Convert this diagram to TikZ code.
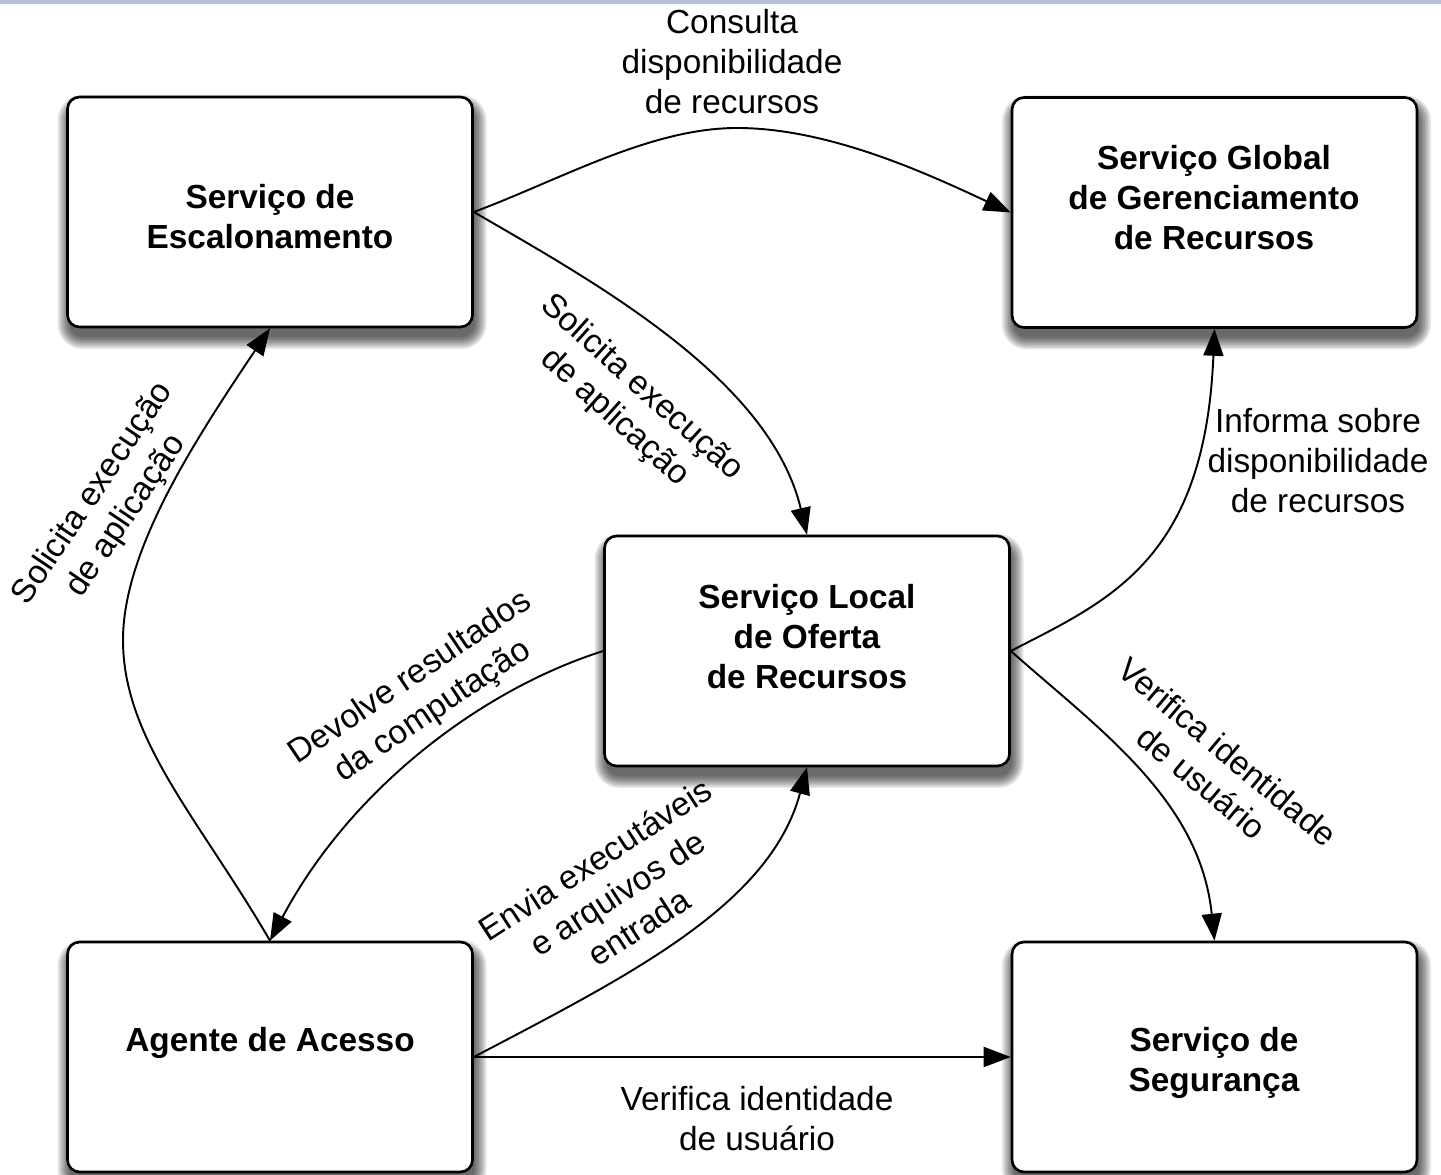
\documentclass[tikz,border=0pt]{standalone}
\usepackage{fontspec}
\setmainfont{Liberation Sans}
\usetikzlibrary{arrows.meta}
\definecolor{bandblue}{HTML}{B8BDDA}
\begin{document}
\begin{tikzpicture}[x=0.02cm,y=-0.02cm,
  service/.style={draw=black, line width=1.5pt, fill=white,
    rounded corners=0.24cm, minimum width=8.1cm, minimum height=4.6cm,
    inner sep=0pt},
  shadowlayer/.style={fill=black, opacity=0.09},
  title/.style={font=\fontsize{19}{22.8}\selectfont\bfseries, align=center, inner sep=0pt},
  msg/.style={font=\fontsize{19}{22.8}\selectfont, align=center, inner sep=0pt},
  flow/.style={line width=1.1pt, -{Triangle[length=0.54cm,width=0.4cm]}},
]
\useasboundingbox (0,0) rectangle (1441,1175);
\fill[white] (0,0) rectangle (1441,1175);
\fill[bandblue] (0,0) rectangle (1441,4);

% soft drop shadows under the boxes, built from stacked translucent layers
\foreach \cx/\cy in {270/212, 1214.5/212.5, 807/651, 270/1057, 1214.5/1057}{
  \foreach [evaluate=\e as \r using 0.26+0.02*\e] \e in {0,1.5,...,12}{
    \fill[shadowlayer, rounded corners=\r cm]
      (\cx-200.5-\e, \cy-105-\e) rectangle (\cx+204.5+\e, \cy+125+\e);
  }
}

% service boxes
\node[service] (esc)  at (270,212)    {};
\node[service] (glob) at (1214.5,212.5) {};
\node[service] (loc)  at (807,651)    {};
\node[service] (age)  at (270,1057)   {};
\node[service] (seg)  at (1214.5,1057) {};

\node[title] (escT)  at (270,217)  {Serviço de\\Escalonamento};
\node[title] (globT) at (1214,198) {Serviço Global\\de Gerenciamento\\de Recursos};
\node[title] (locT)  at (807,637)  {Serviço Local\\de Oferta\\de Recursos};
\node[title] (ageT)  at (270,1043) {Agente de Acesso};
\node[title] (segT)  at (1214,1063) {Serviço de\\Segurança};

% bend points of the longer curves
\coordinate (peak) at (737,128);
\coordinate (bend) at (123,640);

% connectors
\draw[flow] (esc.east) .. controls (560,180) and (650,128) .. (peak)
  .. controls (830,128) and (930,175) .. (glob.west);
\draw[flow] (esc.east) .. controls (600,285) and (770,380) .. (loc.north);
\draw[flow] (age.north) .. controls (200,820) and (123,740) .. (bend)
  .. controls (123,550) and (195,440) .. (esc.south);
\draw[flow] (loc.west) .. controls (480,690) and (350,790) .. (age.north);
\draw[flow] (age.east) .. controls (630,975) and (770,905) .. (loc.south);
\draw[flow] (age.east) -- (seg.west);
\draw[flow] (loc.east) .. controls (1110,600) and (1205,560) .. (glob.south);
\draw[flow] (loc.east) .. controls (1100,730) and (1200,800) .. (seg.north);

% connector labels
\node[msg] (l1) at (732,62) {Consulta\\disponibilidade\\de recursos};
\node[msg, rotate=-42] (l2) at (628,403) {Solicita execução\\de aplicação};
\node[msg, rotate=56] (l3) at (110,505) {Solicita execução\\de aplicação};
\node[msg, rotate=34] (l4) at (422,695) {Devolve resultados\\da computação};
\node[msg, rotate=33] (l5) at (617,893) {Envia executáveis\\e arquivos de\\entrada};
\node[msg] (l6) at (757,1119) {Verifica identidade\\de usuário};
\node[msg] (l7) at (1318,461) {Informa sobre\\disponibilidade\\de recursos};
\node[msg, rotate=-40] (l8) at (1215,767) {Verifica identidade\\de usuário};
\end{tikzpicture}
\end{document}
